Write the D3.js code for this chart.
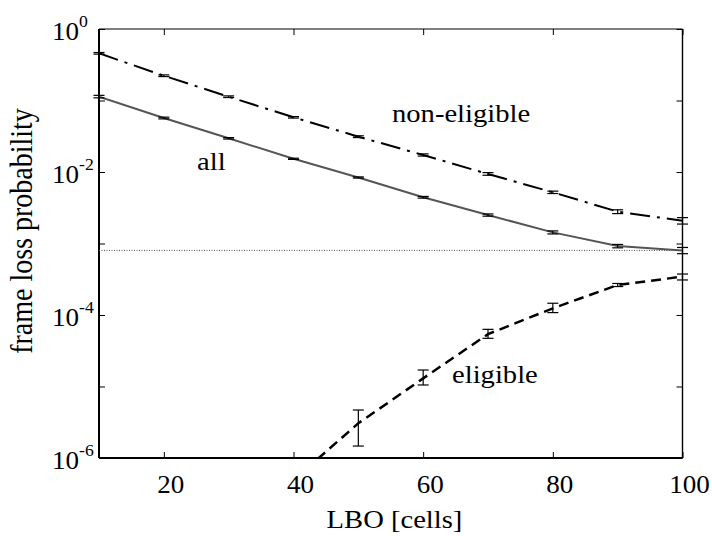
<!DOCTYPE html>
<html>
<head>
<meta charset="utf-8">
<script src="https://cdn.jsdelivr.net/npm/d3@7"></script>
<style>
  body { margin: 0; background: #fff; }
  text { font-family: "Liberation Serif", "Times New Roman", serif; fill: #000; }
</style>
</head>
<body>
<div id="viz"></div>
<script>
// values
var lbo = [10, 20, 30, 40, 50, 60, 70, 80, 90, 100];

var lossAll   = [0.113, 0.0569, 0.0296, 0.0153, 0.00838, 0.00443, 0.00250, 0.00143, 0.00092, 0.00080];
var lossAllLo = [0.109, 0.0553, 0.0289, 0.0150, 0.00822, 0.00431, 0.00241, 0.00136, 0.00087, 0.00072];
var lossAllHi = [0.118, 0.0585, 0.0303, 0.0156, 0.00854, 0.00455, 0.00259, 0.00150, 0.00097, 0.00088];

var lossNonEl   = [0.457, 0.222, 0.113, 0.0582, 0.0312, 0.0173, 0.00938, 0.0052, 0.00279, 0.00208];
var lossNonElLo = [0.445, 0.216, 0.110, 0.0568, 0.0303, 0.0167, 0.0090, 0.0050, 0.00262, 0.00187];
var lossNonElHi = [0.469, 0.228, 0.116, 0.0596, 0.0321, 0.0179, 0.0098, 0.0054, 0.00296, 0.00230];

var lossEl   = [null, null, null, 4.9e-7, 3.06e-6, 1.30e-5, 5.4e-5, 1.24e-4, 2.63e-4, 3.44e-4];
var lossElLo = [null, null, null, 2.0e-7, 1.47e-6, 1.05e-5, 4.72e-5, 1.08e-4, 2.50e-4, 3.09e-4];
var lossElHi = [null, null, null, 1.0e-6, 4.69e-6, 1.70e-5, 6.3e-5, 1.46e-4, 2.76e-4, 3.74e-4];

var target = 8e-4;

var xTicks = [20, 40, 60, 80, 100];
var yTicks = [1e-6, 1e-5, 1e-4, 1e-3, 1e-2, 1e-1, 1];
var yLabelExp = [0, -2, -4, -6];

var W = 712, H = 536;
var pLeft = 99, pRight = 682.5, pTop = 29, pBottom = 458;
var sx = 1.1; // text in the picture is a bit wide

var svg = d3.select("#viz").append("svg")
  .attr("width", W).attr("height", H)
  .style("background", "#fff");

var x = d3.scaleLinear().domain([10, 100]).range([pLeft, pRight]);
var y = d3.scaleLog().domain([1e-6, 1]).range([pBottom, pTop]);

var defs = svg.append("defs");
defs.append("clipPath").attr("id", "plotclip")
  .append("rect").attr("x", pLeft).attr("y", pTop)
  .attr("width", pRight - pLeft).attr("height", pBottom - pTop);
defs.append("clipPath").attr("id", "barclip")
  .append("rect").attr("x", 0).attr("y", pTop)
  .attr("width", W).attr("height", pBottom - pTop);

// ticks (inward, all four sides)
function styleAxis(g) {
  g.select(".domain").remove();
  g.selectAll(".tick line").attr("stroke", "#000").attr("stroke-width", 1);
}
svg.append("g").attr("transform", "translate(0," + pBottom + ")")
  .call(d3.axisBottom(x).tickValues(xTicks).tickSizeInner(-6).tickSizeOuter(0).tickFormat(""))
  .call(styleAxis);
svg.append("g").attr("transform", "translate(0," + pTop + ")")
  .call(d3.axisTop(x).tickValues(xTicks).tickSizeInner(-6).tickSizeOuter(0).tickFormat(""))
  .call(styleAxis);
svg.append("g").attr("transform", "translate(" + pLeft + ",0)")
  .call(d3.axisLeft(y).tickValues(yTicks).tickSizeInner(-6).tickSizeOuter(0).tickFormat(""))
  .call(styleAxis);
svg.append("g").attr("transform", "translate(" + pRight + ",0)")
  .call(d3.axisRight(y).tickValues(yTicks).tickSizeInner(-6).tickSizeOuter(0).tickFormat(""))
  .call(styleAxis);

// frame
svg.append("line").attr("x1", pLeft).attr("x2", pRight).attr("y1", pTop).attr("y2", pTop)
  .attr("stroke", "#000").attr("stroke-width", 1.2);
svg.append("line").attr("x1", pRight).attr("x2", pRight).attr("y1", pTop).attr("y2", pBottom)
  .attr("stroke", "#000").attr("stroke-width", 1.4);
svg.append("line").attr("x1", pLeft).attr("x2", pRight).attr("y1", pBottom).attr("y2", pBottom)
  .attr("stroke", "#000").attr("stroke-width", 2);
svg.append("line").attr("x1", pLeft).attr("x2", pLeft).attr("y1", pTop).attr("y2", pBottom)
  .attr("stroke", "#000").attr("stroke-width", 2);

// tick labels
svg.selectAll(".xlab").data(xTicks).enter().append("text")
  .attr("class", "xlab")
  .attr("transform", function (d) { return "translate(" + (x(d) + 7) + ",493) scale(1.04,1)"; })
  .attr("text-anchor", "middle")
  .style("font-size", "26px")
  .text(function (d) { return d; });

var ylab = svg.selectAll(".ylab").data(yLabelExp).enter().append("text")
  .attr("class", "ylab")
  .attr("transform", function (d) { return "translate(52," + (y(Math.pow(10, d)) + 11) + ") scale(1.04,1)"; })
  .style("font-size", "26px");
ylab.append("tspan").text("10");
ylab.append("tspan").attr("dy", -13).style("font-size", "17px")
  .text(function (d) { return d; });

// reference level
svg.append("line")
  .attr("x1", pLeft).attr("x2", pRight)
  .attr("y1", y(target)).attr("y2", y(target))
  .attr("stroke", "#555").attr("stroke-width", 1)
  .attr("stroke-dasharray", "1,1.5");

// curves
var line = d3.line()
  .defined(function (d) { return d[1] != null; })
  .x(function (d) { return x(d[0]); })
  .y(function (d) { return y(d[1]); });

var plot = svg.append("g").attr("clip-path", "url(#plotclip)");
plot.append("path").datum(d3.zip(lbo, lossNonEl)).attr("d", line)
  .attr("fill", "none").attr("stroke", "#000").attr("stroke-width", 2)
  .attr("stroke-dasharray", "20,7,3,7");
plot.append("path").datum(d3.zip(lbo, lossAll)).attr("d", line)
  .attr("fill", "none").attr("stroke", "#555").attr("stroke-width", 2);
plot.append("path").datum(d3.zip(lbo, lossEl)).attr("d", line)
  .attr("fill", "none").attr("stroke", "#000").attr("stroke-width", 2.5)
  .attr("stroke-dasharray", "10,6");

// error bars
var bars = svg.append("g").attr("clip-path", "url(#barclip)")
  .attr("stroke", "#000").attr("stroke-width", 1.2);
function errorBars(lo, hi) {
  var d = d3.zip(lbo, lo, hi).filter(function (r) { return r[1] != null; });
  var g = bars.append("g").selectAll("g").data(d).enter().append("g");
  g.append("line")
    .attr("x1", function (r) { return x(r[0]); }).attr("x2", function (r) { return x(r[0]); })
    .attr("y1", function (r) { return y(r[1]); }).attr("y2", function (r) { return y(r[2]); });
  [1, 2].forEach(function (k) {
    g.append("line")
      .attr("x1", function (r) { return x(r[0]) - 5.5; }).attr("x2", function (r) { return x(r[0]) + 5.5; })
      .attr("y1", function (r) { return y(r[k]); }).attr("y2", function (r) { return y(r[k]); });
  });
}
errorBars(lossNonElLo, lossNonElHi);
errorBars(lossAllLo, lossAllHi);
errorBars(lossElLo, lossElHi);

// curve labels
function label(txt, px, py) {
  svg.append("text")
    .attr("transform", "translate(" + px + "," + py + ") scale(" + sx + ",1)")
    .style("font-size", "26px")
    .text(txt);
}
label("all", 197, 170);
label("non-eligible", 392, 122);
label("eligible", 452, 383);

// axis titles
svg.append("text")
  .attr("transform", "translate(394.5,528) scale(" + sx + ",1)")
  .attr("text-anchor", "middle")
  .style("font-size", "26px")
  .text("LBO [cells]");
svg.append("text")
  .attr("transform", "translate(32,231) rotate(-90) scale(1," + sx + ")")
  .attr("text-anchor", "middle")
  .style("font-size", "28px")
  .text("frame loss probability");
</script>
</body>
</html>
